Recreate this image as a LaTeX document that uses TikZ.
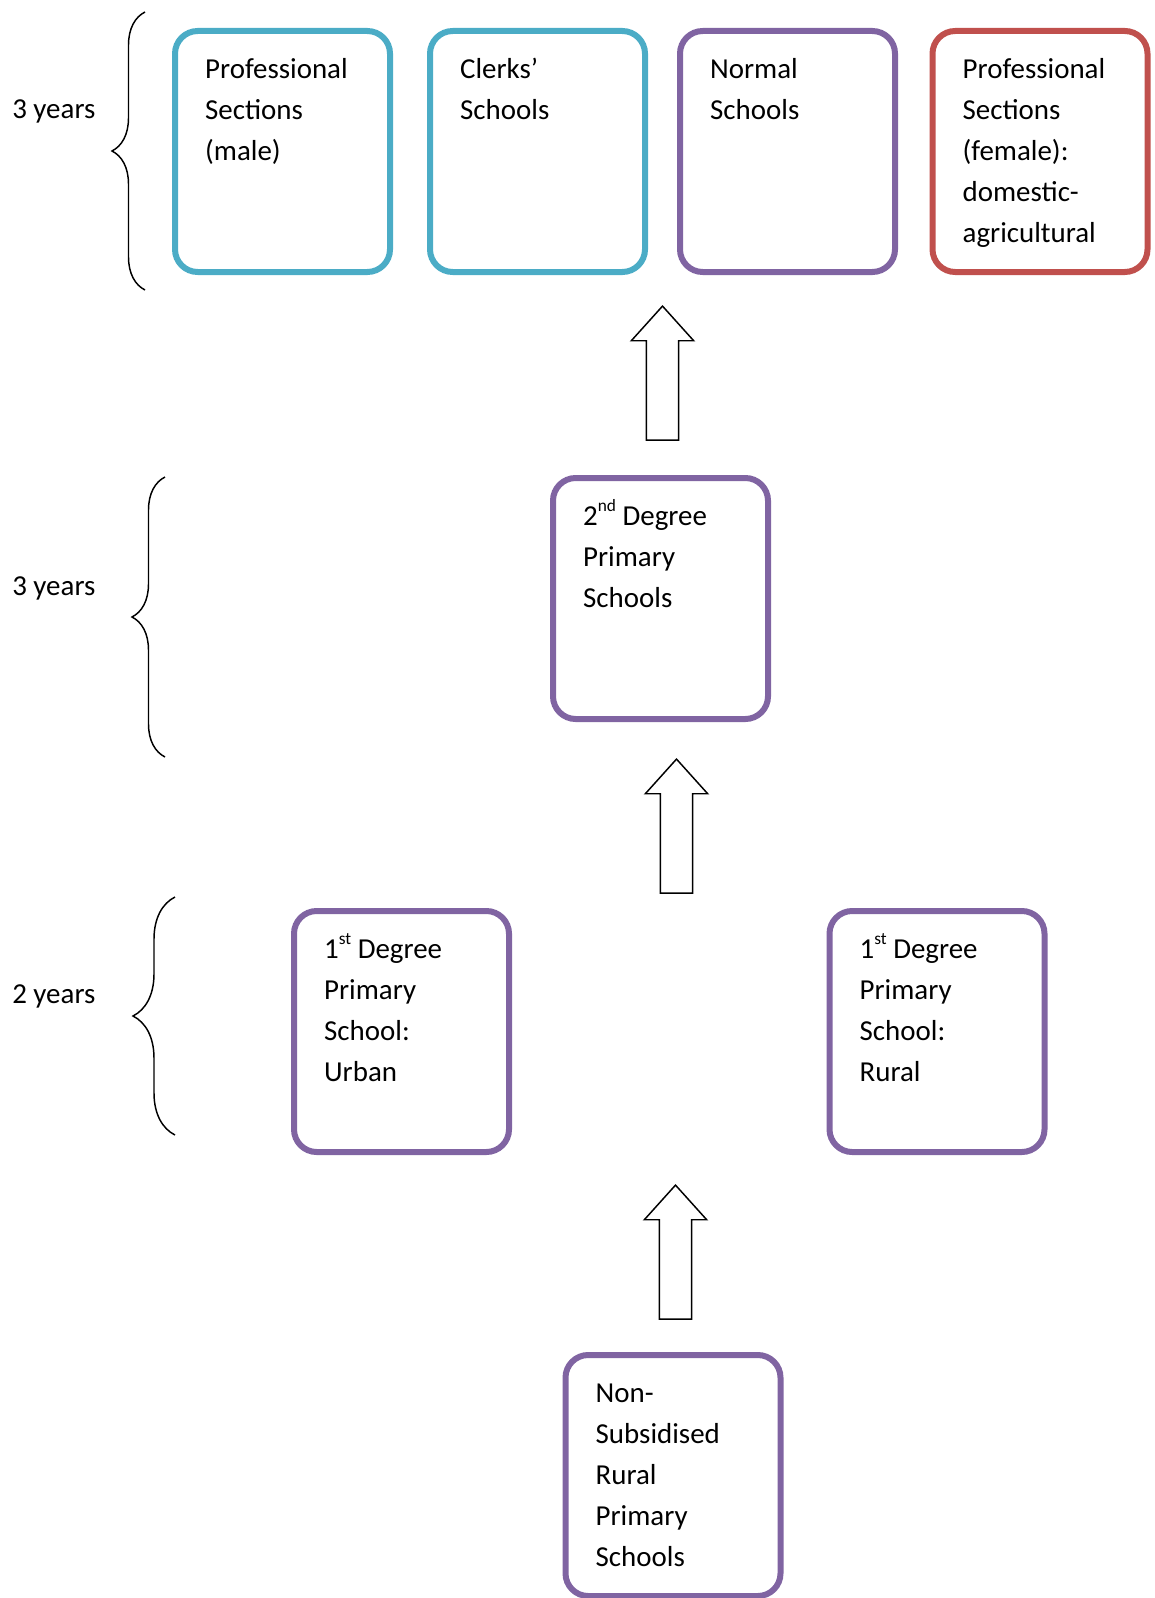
\documentclass[tikz,border=0pt]{standalone}
\usepackage{fontspec}
\setmainfont{Carlito}
\usetikzlibrary{shapes.arrows,decorations.pathreplacing}

\definecolor{aqua}{HTML}{4BACC6}
\definecolor{lilac}{HTML}{8064A2}
\definecolor{brick}{HTML}{C0504D}

\newcommand{\boxlines}[1]{\begin{minipage}[c][155pt][t]{116pt}\raggedright\rule{0pt}{23pt}#1\end{minipage}}
\newcommand{\ordsup}[1]{\raisebox{10.5pt}{\fontsize{13}{13}\selectfont #1}}

\begin{document}
\begin{tikzpicture}[x=0.75pt,y=-0.75pt]
\tikzset{
  school/.style={draw=#1,line width=4.5pt,rounded corners=17pt,inner sep=0pt,
    minimum width=161.25pt,minimum height=180.75pt,
    font=\fontsize{21.7}{30.75}\selectfont},
  upblock/.style={single arrow,draw,line width=1.1pt,rotate=90,inner sep=11.6pt,anchor=tip,
    minimum height=100.5pt,single arrow head extend=11.25pt,single arrow tip angle=84},
  yearbrace/.style={decorate,decoration={brace,amplitude=#1},line width=1.1pt},
  yearlabel/.style={anchor=base west,inner sep=0pt,font=\fontsize{21.7}{30.75}\selectfont}
}
\useasboundingbox (0,0) rectangle (1155,1598);

\node[school=aqua] (psm) at (282.5,151.5) {\boxlines{Professional\\Sections\\(male)}};
\node[school=aqua] (clerks) at (537.5,151.5) {\boxlines{Clerks’\\Schools}};
\node[school=lilac] (normal) at (787.5,151.5) {\boxlines{Normal\\Schools}};
\node[school=brick] (psf) at (1040,151.5) {\boxlines{Professional\\Sections\\(female):\\domestic-\\agricultural}};

\node[school=lilac] (second) at (660.5,598.5) {\boxlines{2\ordsup{nd} Degree\\Primary\\Schools}};

\node[school=lilac] (urban) at (401.5,1031.5) {\boxlines{1\ordsup{st} Degree\\Primary\\School:\\Urban}};
\node[school=lilac] (rural) at (937,1031.5) {\boxlines{1\ordsup{st} Degree\\Primary\\School:\\Rural}};

\node[school=lilac] (nonsub) at (673,1475.5) {\boxlines{Non-\\Subsidised\\Rural\\Primary\\Schools}};

% block arrows
\node[upblock] (up1) at (662.5,305) {};
\node[upblock] (up2) at (676.5,758) {};
\node[upblock] (up3) at (675.5,1184) {};

% years
\draw[yearbrace=24.75pt] (145,290) -- (145,12);
\draw[yearbrace=24.75pt] (165,757) -- (165,477);
\draw[yearbrace=31.5pt] (175,1135) -- (175,897);
\node[yearlabel] (yr1) at (12,119) {3 years};
\node[yearlabel] (yr2) at (12,595) {3 years};
\node[yearlabel] (yr3) at (12,1003) {2 years};

\end{tikzpicture}
\end{document}
